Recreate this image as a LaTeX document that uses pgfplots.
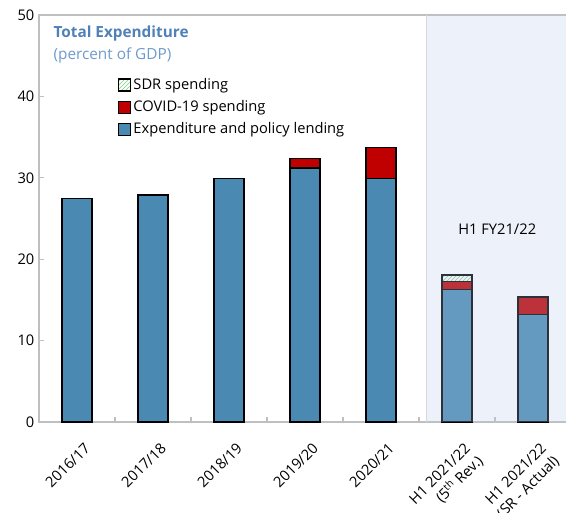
\documentclass[border=0pt]{standalone}
\usepackage{fontspec}
\setmainfont{Open Sans}
\usepackage{pgfplots}
\pgfplotsset{compat=1.18}
\usetikzlibrary{patterns}
\definecolor{barblue}{RGB}{74,138,178}
\definecolor{covred}{RGB}{192,0,0}
\definecolor{titleblue}{RGB}{79,129,182}
\definecolor{subblue}{RGB}{110,155,205}
\definecolor{axgray}{RGB}{191,191,191}
\definecolor{shadecol}{RGB}{180,200,235}
\pgfplotsset{sqleg/.style={legend image code/.code={\draw[##1,draw=black,line width=0.8pt] (0pt,-4.5pt) rectangle (9pt,4.5pt);}}}
\begin{document}
\begin{tikzpicture}[x=1pt,y=1pt]
\path[use as bounding box] (0,0) rectangle (424.5,384);
\begin{axis}[
 at={(29.25pt,67.5pt)}, anchor=south west,
 scale only axis, width=399pt, height=305.25pt,
 xmin=-0.5, xmax=6.5, ymin=0, ymax=50,
 ybar stacked, bar width=22.5pt,
 xtick={0,...,6},
 xticklabels={2016/17,2017/18,2018/19,2019/20,2020/21,{H1 2021/22\\(5\textsuperscript{th} Rev.)},{H1 2021/22\\(SR - Actual)}},
 minor xtick={0.5,1.5,...,5.5},
 major x tick style={draw=none},
 ytick={0,10,...,50},
 tick align=inside,
 tick style={axgray, line width=0.8pt},
 major tick length=4pt, minor tick length=4pt,
 axis line style={axgray, line width=1pt},
 x tick label style={rotate=45, anchor=north east, align=right, font=\fontsize{11}{13.5}\selectfont, yshift=-10.5pt, xshift=-3.5pt},
 y tick label style={font=\fontsize{11}{13}\selectfont},
 /pgf/number format/assume math mode=true,
 ytick pos=left, xtick pos=bottom,
 reverse legend,
 legend style={at={(axis cs:0.48,42.9)}, anchor=north west, draw=none, fill=none, font=\fontsize{11}{13}\selectfont, row sep=2.8pt},
 legend cell align=left,
 clip=false,
]
\addplot[fill=barblue, draw=black, line width=0.9pt, sqleg]
  coordinates {(0,27.5) (1,27.9) (2,29.9) (3,31.2) (4,29.9) (5,16.25) (6,13.2)};
\addlegendentry{Expenditure and policy lending}
\addplot[fill=covred, draw=black, line width=0.9pt, sqleg]
  coordinates {(0,0) (1,0) (2,0) (3,1.2) (4,3.8) (5,1.05) (6,2.15)};
\addlegendentry{COVID-19 spending}
\addplot[fill=white, postaction={pattern=north east lines, pattern color=green!60!black!50}, draw=black, line width=0.9pt, sqleg]
  coordinates {(0,0) (1,0) (2,0) (3,0) (4,0) (5,0.75) (6,0)};
\addlegendentry{SDR spending}
\coordinate (s1) at (axis cs:4.6,0);
\coordinate (s2) at (axis cs:6.5,50);
\coordinate (lab) at (axis cs:5.53,23.7);
\node[anchor=west, text=titleblue, font=\fontsize{11.5}{13}\selectfont\bfseries] at (axis cs:-0.37,47.7) {Total Expenditure};
\node[anchor=west, text=subblue, font=\fontsize{11.5}{13}\selectfont] at (axis cs:-0.37,45.0) {(percent of GDP)};
\end{axis}
\fill[shadecol, opacity=0.25] (s1) rectangle (s2);
\draw[axgray!60, line width=0.6pt] (s1) -- (s1|-s2);
\node[font=\fontsize{11}{13}\selectfont] at (lab) {H1 FY21/22};
\end{tikzpicture}
\end{document}
